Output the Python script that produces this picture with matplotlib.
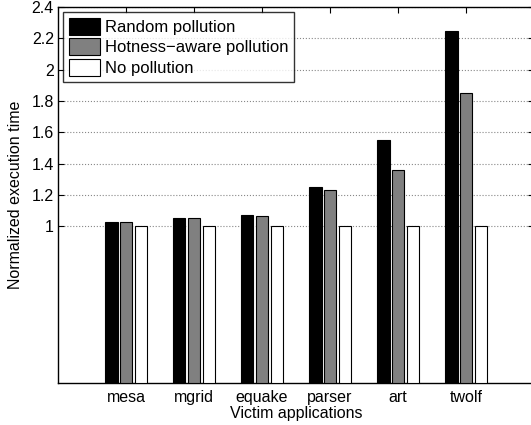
import numpy as np
from matplotlib import pyplot as plt

plt.rcParams['font.family'] = ['Liberation Sans', 'DejaVu Sans']

apps = ['mesa', 'mgrid', 'equake', 'parser', 'art', 'twolf']
random_pol = [1.03, 1.05, 1.07, 1.25, 1.55, 2.245]
hotness_pol = [1.03, 1.05, 1.065, 1.235, 1.36, 1.853]
no_pol = [1.0, 1.0, 1.0, 1.0, 1.0, 1.0]

fig = plt.figure(figsize=(5.31, 4.25), dpi=100)
ax = fig.add_axes([58 / 531, 1 - 383 / 425, 476 / 531, 376 / 425])

x = np.arange(1, len(apps) + 1)
w = 0.19
off = 0.22
ax.bar(x - off, random_pol, w, color='black', edgecolor='black', linewidth=0.8, label='Random pollution', zorder=3)
ax.bar(x, hotness_pol, w, color='#808080', edgecolor='black', linewidth=0.8, label='Hotness\u2212aware pollution', zorder=3)
ax.bar(x + off, no_pol, w, color='white', edgecolor='black', linewidth=0.8, label='No pollution', zorder=3)

ax.set_xlim(0, 7)
ax.set_ylim(0, 2.4)
ax.set_xticks(x)
ax.set_xticklabels(apps)
yt = [1, 1.2, 1.4, 1.6, 1.8, 2, 2.2, 2.4]
ax.set_yticks(yt)
ax.set_yticklabels(['1', '1.2', '1.4', '1.6', '1.8', '2', '2.2', '2.4'])
ax.tick_params(direction='in', top=True, right=True, labelsize=11.5, length=4, pad=3)
ax.tick_params(axis='x', pad=5)
ax.yaxis.grid(True, linestyle=':', color='#888888', linewidth=0.8)
ax.set_axisbelow(True)
for s in ax.spines.values():
    s.set_linewidth(1.0)

ax.set_xlabel('Victim applications', fontsize=11.5, labelpad=1)
ax.set_ylabel('Normalized execution time', fontsize=11.5, labelpad=6)

leg = ax.legend(loc='upper left', fontsize=12, frameon=True, fancybox=False,
                edgecolor='black', handlelength=1.9, handleheight=1.2,
                handletextpad=0.25, borderpad=0.35, labelspacing=0.2,
                borderaxespad=0.3)
leg.get_frame().set_linewidth(1.0)

plt.savefig('out.png', dpi=100)
